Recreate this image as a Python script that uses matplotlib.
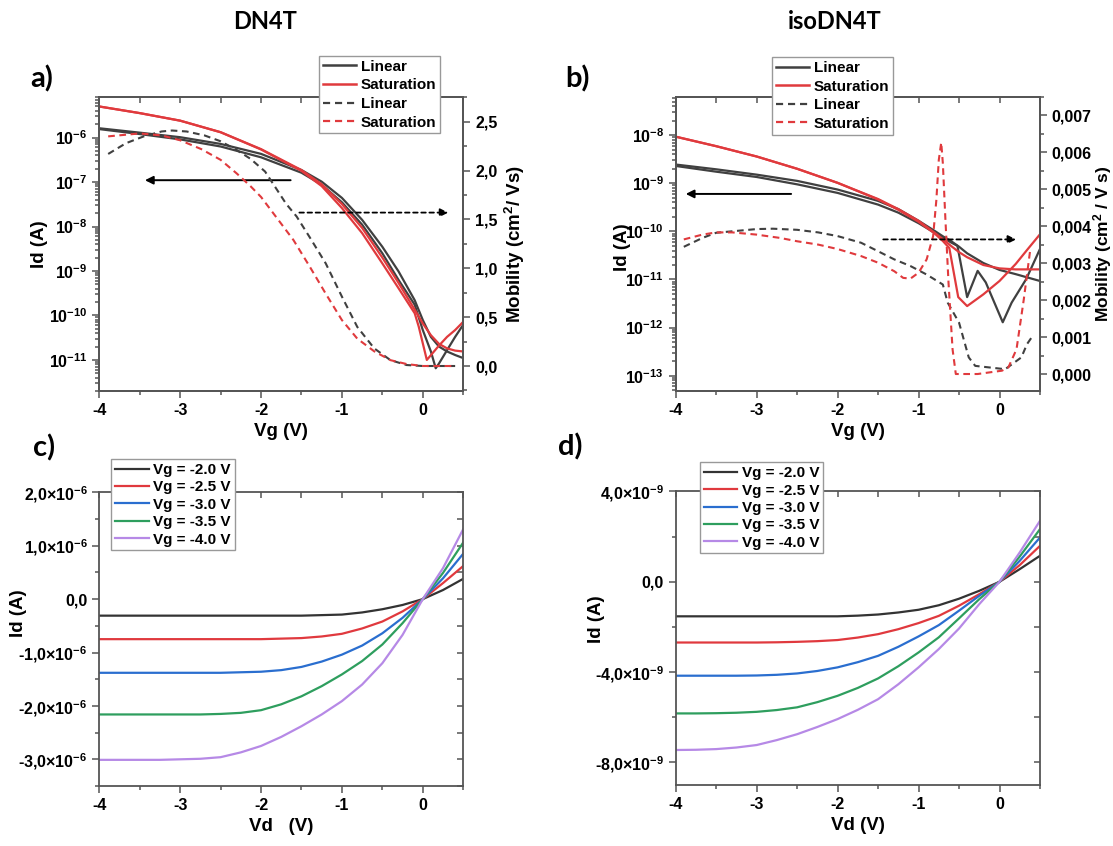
import matplotlib
matplotlib.use("Agg")
from matplotlib import pyplot as plt
from matplotlib.lines import Line2D
from matplotlib.ticker import FuncFormatter, LogLocator, MultipleLocator, NullFormatter

plt.rcParams["font.family"] = ["Liberation Sans", "DejaVu Sans"]
plt.rcParams["font.weight"] = "bold"
plt.rcParams["axes.labelweight"] = "bold"
plt.rcParams["axes.unicode_minus"] = False
plt.rcParams["mathtext.fontset"] = "custom"
plt.rcParams["mathtext.rm"] = "Liberation Sans:bold"
plt.rcParams["mathtext.bf"] = "Liberation Sans:bold"
plt.rcParams["mathtext.it"] = "Liberation Sans:bold:italic"
plt.rcParams["mathtext.default"] = "rm"

# ---------------- a) DN4T transfer ----------------
vg_a = [-4.0, -3.5, -3.0, -2.5, -2.0, -1.5, -1.25, -1.0, -0.75, -0.5, -0.3, -0.1,
        0.0, 0.1, 0.2, 0.3, 0.4, 0.5]
id_lin_a1 = [1.62e-6, 1.29e-6, 1.02e-6, 7.2e-7, 4.3e-7, 1.86e-7, 1.02e-7, 4.4e-8,
             1.41e-8, 3.5e-9, 9.8e-10, 2.2e-10, 7.9e-11, 3.3e-11, 2.0e-11, 1.55e-11,
             1.29e-11, 1.10e-11]
vg_a2 = [-4.0, -3.5, -3.0, -2.5, -2.0, -1.5, -1.25, -1.0, -0.75, -0.5, -0.3, -0.1,
         0.0, 0.1, 0.16, 0.2, 0.3, 0.4, 0.5]
id_lin_a2 = [1.55e-6, 1.20e-6, 9.1e-7, 6.3e-7, 3.6e-7, 1.62e-7, 8.7e-8, 3.5e-8,
             1.10e-8, 2.5e-9, 6.3e-10, 1.74e-10, 4.7e-11, 1.55e-11, 6.5e-12,
             8.3e-12, 1.66e-11, 3.3e-11, 6.2e-11]
id_sat_a1 = [5.0e-6, 3.55e-6, 2.4e-6, 1.32e-6, 5.5e-7, 1.86e-7, 8.9e-8, 3.2e-8,
             9.3e-9, 2.0e-9, 5.4e-10, 1.35e-10, 6.6e-11, 3.6e-11, 2.3e-11,
             1.82e-11, 1.62e-11, 1.55e-11]
vg_a3 = [-4.0, -3.5, -3.0, -2.5, -2.0, -1.5, -1.25, -1.0, -0.75, -0.5, -0.3, -0.1,
         -0.05, 0.05, 0.2, 0.3, 0.4, 0.5]
id_sat_a2 = [5.0e-6, 3.55e-6, 2.4e-6, 1.32e-6, 5.4e-7, 1.78e-7, 8.1e-8, 2.6e-8,
             7.1e-9, 1.48e-9, 4.1e-10, 1.12e-10, 5.6e-11, 1.0e-11, 2.1e-11,
             3.3e-11, 4.7e-11, 7.2e-11]

mu_x_lin_a = [-3.89, -3.67, -3.45, -3.23, -3.10, -2.92, -2.70, -2.50, -2.30, -2.13,
              -1.95, -1.80, -1.69, -1.56, -1.40, -1.20, -1.0, -0.81, -0.60, -0.40,
              -0.20, 0.0, 0.40]
mu_lin_a = [2.17, 2.28, 2.35, 2.40, 2.41, 2.40, 2.36, 2.30, 2.21, 2.12,
            1.99, 1.80, 1.66, 1.53, 1.32, 1.05, 0.71, 0.40, 0.18, 0.06,
            0.01, 0.0, 0.0]
mu_x_sat_a = [-3.89, -3.50, -3.23, -3.0, -2.74, -2.50, -2.30, -2.13, -2.0, -1.80,
              -1.60, -1.40, -1.20, -1.0, -0.81, -0.60, -0.40, -0.20, 0.0, 0.40]
mu_sat_a = [2.35, 2.38, 2.36, 2.31, 2.22, 2.11, 1.97, 1.84, 1.73, 1.51,
            1.29, 1.02, 0.74, 0.47, 0.28, 0.15, 0.06, 0.02, 0.0, 0.0]

# ---------------- b) isoDN4T transfer ----------------
vg_b = [-4.0, -3.5, -3.0, -2.5, -2.0, -1.5, -1.25, -1.0, -0.8, -0.7, -0.6, -0.5,
        -0.4, -0.2, 0.0, 0.2, 0.5]
id_sat_b1 = [9.3e-9, 5.9e-9, 3.6e-9, 2.0e-9, 1.02e-9, 4.7e-10, 2.9e-10, 1.66e-10,
             9.3e-11, 6.9e-11, 5.0e-11, 3.7e-11, 2.9e-11, 2.0e-11, 1.70e-11,
             1.62e-11, 1.62e-11]
id_lin_b1 = [2.45e-9, 1.95e-9, 1.51e-9, 1.12e-9, 7.4e-10, 4.3e-10, 2.9e-10,
             1.66e-10, 1.02e-10, 7.9e-11, 6.3e-11, 4.8e-11, 3.5e-11, 2.2e-11,
             1.58e-11, 1.29e-11, 9.3e-12]
vg_b2 = [-4.0, -3.5, -3.0, -2.5, -2.0, -1.5, -1.25, -1.0, -0.8, -0.7, -0.62,
         -0.51, -0.4, -0.2, 0.0, 0.2, 0.35, 0.5]
id_sat_b2 = [9.3e-9, 5.9e-9, 3.6e-9, 2.0e-9, 1.02e-9, 4.6e-10, 2.8e-10, 1.58e-10,
             9.0e-11, 6.3e-11, 4.5e-11, 4.3e-12, 2.8e-12, 4.9e-12, 9.3e-12,
             2.1e-11, 4.3e-11, 8.7e-11]
vg_b3 = [-4.0, -3.5, -3.0, -2.5, -2.0, -1.5, -1.25, -1.0, -0.8, -0.7, -0.6, -0.52,
         -0.4, -0.27, -0.17, 0.04, 0.15, 0.33, 0.5]
id_lin_b2 = [2.29e-9, 1.74e-9, 1.35e-9, 9.5e-10, 6.3e-10, 3.6e-10, 2.45e-10,
             1.48e-10, 9.3e-11, 7.4e-11, 5.9e-11, 5.0e-11, 4.3e-12, 1.51e-11,
             8.7e-12, 1.29e-12, 3.3e-12, 1.02e-11, 4.3e-11]

mu_x_lin_b = [-3.90, -3.67, -3.50, -3.30, -3.0, -2.80, -2.50, -2.24, -2.0, -1.71,
              -1.50, -1.30, -1.10, -0.90, -0.70, -0.64, -0.50, -0.38, -0.30, 0.07,
              0.27, 0.34, 0.40]
mu_lin_b = [3.44e-3, 3.68e-3, 3.82e-3, 3.86e-3, 3.92e-3, 3.93e-3, 3.90e-3, 3.83e-3,
            3.73e-3, 3.55e-3, 3.32e-3, 3.10e-3, 2.92e-3, 2.69e-3, 2.42e-3, 1.93e-3,
            1.39e-3, 0.45e-3, 0.22e-3, 0.13e-3, 0.45e-3, 0.81e-3, 1.00e-3]
mu_x_sat_b = [-3.90, -3.67, -3.50, -3.30, -3.0, -2.71, -2.50, -2.24, -2.0, -1.71,
              -1.50, -1.30, -1.19, -1.10, -1.0, -0.90, -0.82, -0.78, -0.75, -0.72,
              -0.70, -0.67, -0.63, -0.58, -0.54, -0.27, 0.03, 0.11, 0.21, 0.30, 0.38]
mu_sat_b = [3.64e-3, 3.77e-3, 3.83e-3, 3.83e-3, 3.77e-3, 3.68e-3, 3.59e-3, 3.50e-3,
            3.38e-3, 3.19e-3, 3.01e-3, 2.78e-3, 2.60e-3, 2.58e-3, 2.74e-3, 3.10e-3,
            3.73e-3, 4.71e-3, 5.79e-3, 6.26e-3, 5.70e-3, 4.26e-3, 2.47e-3, 0.67e-3,
            0.0, 0.0, 0.09e-3, 0.18e-3, 0.67e-3, 2.02e-3, 3.37e-3]

# ---------------- c) / d) output curves ----------------
vd = [-4.0, -3.75, -3.5, -3.25, -3.0, -2.75, -2.5, -2.25, -2.0, -1.75, -1.5, -1.25,
      -1.0, -0.75, -0.5, -0.25, 0.0, 0.25, 0.5]
vg_labels = ["Vg = -2.0 V", "Vg = -2.5 V", "Vg = -3.0 V", "Vg = -3.5 V", "Vg = -4.0 V"]
id_c = [
    [-0.31, -0.31, -0.31, -0.31, -0.31, -0.31, -0.31, -0.31, -0.31, -0.31, -0.31,
     -0.30, -0.29, -0.25, -0.19, -0.11, 0.0, 0.17, 0.38],
    [-0.75, -0.75, -0.75, -0.75, -0.75, -0.75, -0.75, -0.75, -0.75, -0.74, -0.73,
     -0.70, -0.65, -0.55, -0.42, -0.23, 0.0, 0.30, 0.62],
    [-1.38, -1.38, -1.38, -1.38, -1.38, -1.38, -1.38, -1.37, -1.36, -1.33, -1.27,
     -1.17, -1.04, -0.87, -0.64, -0.35, 0.0, 0.39, 0.85],
    [-2.16, -2.16, -2.16, -2.16, -2.16, -2.16, -2.15, -2.13, -2.08, -1.97, -1.82,
     -1.63, -1.41, -1.16, -0.85, -0.45, 0.0, 0.49, 1.06],
    [-3.01, -3.01, -3.01, -3.01, -3.00, -2.99, -2.96, -2.87, -2.75, -2.58, -2.38,
     -2.16, -1.91, -1.60, -1.20, -0.67, 0.0, 0.58, 1.31],
]  # x 1e-6 A
id_d = [
    [-1.53, -1.53, -1.53, -1.53, -1.53, -1.53, -1.53, -1.53, -1.53, -1.50, -1.45,
     -1.36, -1.24, -1.04, -0.75, -0.40, 0.0, 0.56, 1.15],
    [-2.69, -2.69, -2.69, -2.69, -2.69, -2.68, -2.66, -2.63, -2.58, -2.47, -2.32,
     -2.10, -1.83, -1.51, -1.06, -0.55, 0.0, 0.74, 1.59],
    [-4.16, -4.16, -4.16, -4.16, -4.15, -4.12, -4.06, -3.95, -3.79, -3.56, -3.28,
     -2.88, -2.42, -1.92, -1.28, -0.62, 0.0, 0.93, 1.96],
    [-5.83, -5.83, -5.82, -5.80, -5.76, -5.68, -5.56, -5.33, -5.05, -4.70, -4.28,
     -3.74, -3.13, -2.46, -1.62, -0.77, 0.0, 1.12, 2.33],
    [-7.45, -7.44, -7.41, -7.34, -7.23, -7.01, -6.75, -6.43, -6.08, -5.67, -5.20,
     -4.54, -3.79, -2.98, -2.07, -0.99, 0.0, 1.30, 2.70],
]  # x 1e-9 A

DARK = "#404040"
RED = "#e03a3d"
OUT_COLORS = ["#333333", "#e0393e", "#2a6ecf", "#2e9e5e", "#b689e6"]
SPINE = "#555555"
TICK_FS = 11.5
LABEL_FS = 13.5
LEG_FS = 11
DASH = (0, (3.2, 2.2))


def comma(fmt):
    return FuncFormatter(lambda v, pos: (fmt % v).replace(".", ","))


def sci_comma(scale, exp):
    def f(v, pos):
        m = v / scale
        if abs(m) < 1e-9:
            return "0,0"
        return ("%.1f" % m).replace(".", ",") + r"×10$^{%d}$" % exp
    return FuncFormatter(f)


def style_spines(ax):
    for s in ax.spines.values():
        s.set_color(SPINE)
        s.set_linewidth(1.3)
    ax.tick_params(which="both", direction="out", color=SPINE, width=1.1,
                   labelsize=TICK_FS)
    ax.tick_params(which="major", length=5)
    ax.tick_params(which="minor", length=3)


def style_axes(ax):
    style_spines(ax)
    ax.set_xlim(-4, 0.5)
    ax.xaxis.set_major_locator(MultipleLocator(1))
    ax.xaxis.set_minor_locator(MultipleLocator(0.5))
    top = ax.secondary_xaxis("top")
    top.xaxis.set_major_locator(MultipleLocator(0.5))
    top.tick_params(direction="in", length=4, color=SPINE, width=1.1, labeltop=False)
    top.spines["top"].set_visible(False)


def log_left(ax, label_xy):
    ax.set_yscale("log")
    ax.yaxis.set_major_locator(LogLocator(base=10, numticks=20))
    ax.yaxis.set_minor_locator(LogLocator(base=10, subs=range(2, 10), numticks=20))
    ax.yaxis.set_minor_formatter(NullFormatter())
    ax.set_xlabel("Vg (V)", fontsize=LABEL_FS)
    ax.set_ylabel("Id (A)", fontsize=LABEL_FS)
    ax.yaxis.set_label_coords(*label_xy)


def make_legend(ax, fig, x0, top, handles=None, labels=None, spacing=0.3):
    kw = dict(loc="upper left", bbox_to_anchor=(x0, top),
              bbox_transform=fig.transFigure, fancybox=False,
              edgecolor="#999999", framealpha=1, borderpad=0.25,
              labelspacing=spacing, handlelength=2.2, handletextpad=0.3,
              borderaxespad=0, prop={"weight": "bold", "size": LEG_FS})
    if handles is None:
        leg = ax.legend(**kw)
    else:
        leg = ax.legend(handles, labels, **kw)
    leg.get_frame().set_linewidth(1.0)
    leg.set_zorder(20)


def transfer_legend(ax2, fig, x0, top):
    handles = [
        Line2D([], [], color=DARK, lw=1.8),
        Line2D([], [], color=RED, lw=1.8),
        Line2D([], [], color=DARK, lw=1.6, ls=DASH),
        Line2D([], [], color=RED, lw=1.6, ls=DASH),
    ]
    make_legend(ax2, fig, x0, top, handles,
                ["Linear", "Saturation", "Linear", "Saturation"], spacing=0.3)


def mobility_axis(ax, ylim, major, minor, fmt, label, label_x, label_fs):
    ax2 = ax.twinx()
    style_spines(ax2)
    ax2.set_ylim(*ylim)
    ax2.yaxis.set_major_locator(MultipleLocator(major))
    ax2.yaxis.set_minor_locator(MultipleLocator(minor))
    ax2.yaxis.set_major_formatter(comma(fmt))
    ax2.set_ylabel(label, fontsize=label_fs)
    ax2.yaxis.set_label_coords(label_x, 0.5)
    return ax2


def arrow(ax, x0, x1, y, dashed=False):
    props = dict(arrowstyle="-|>", color="black", lw=1.4, mutation_scale=12)
    if dashed:
        props["ls"] = (0, (2.5, 2))
        props["lw"] = 1.3
    ax.annotate("", xy=(x1, y), xytext=(x0, y), arrowprops=props)


def main():
    fig = plt.figure(figsize=(11.13, 8.46), dpi=100)

    # ----- a)
    ax = fig.add_axes([0.0892, 0.5378, 0.3270, 0.3479])
    style_axes(ax)
    log_left(ax, (-0.14, 0.5))
    ax.plot(vg_a, id_lin_a1, color=DARK, lw=1.6)
    ax.plot(vg_a2, id_lin_a2, color=DARK, lw=1.6)
    ax.plot(vg_a, id_sat_a1, color=RED, lw=1.6)
    ax.plot(vg_a3, id_sat_a2, color=RED, lw=1.6)
    ax.set_ylim(2.0e-12, 8.3e-6)
    arrow(ax, -1.6, -3.47, 1.1e-7)
    ax2 = mobility_axis(ax, (-0.256, 2.756), 0.5, 0.25, "%.1f",
                        "Mobility (cm$^2$/ Vs)", 1.11, LABEL_FS)
    ax2.plot(mu_x_lin_a, mu_lin_a, color=DARK, lw=1.5, ls=DASH)
    ax2.plot(mu_x_sat_a, mu_sat_a, color=RED, lw=1.5, ls=DASH)
    arrow(ax2, -1.56, 0.35, 1.57, dashed=True)
    transfer_legend(ax2, fig, 0.2866, 0.9338)

    # ----- b)
    bx = fig.add_axes([0.6071, 0.5378, 0.3273, 0.3479])
    style_axes(bx)
    log_left(bx, (-0.122, 0.49))
    bx.plot(vg_b, id_lin_b1, color=DARK, lw=1.6)
    bx.plot(vg_b3, id_lin_b2, color=DARK, lw=1.6)
    bx.plot(vg_b, id_sat_b1, color=RED, lw=1.6)
    bx.plot(vg_b2, id_sat_b2, color=RED, lw=1.6)
    bx.set_ylim(4.8e-14, 6.3e-8)
    arrow(bx, -2.54, -3.91, 6.0e-10)
    bx2 = mobility_axis(bx, (-0.00046, 0.0075), 0.001, 0.0005, "%.3f",
                        "Mobility (cm$^2$ / V s)", 1.14, 12.5)
    bx2.plot(mu_x_lin_b, mu_lin_b, color=DARK, lw=1.5, ls=DASH)
    bx2.plot(mu_x_sat_b, mu_sat_b, color=RED, lw=1.5, ls=DASH)
    arrow(bx2, -1.47, 0.24, 3.64e-3, dashed=True)
    transfer_legend(bx2, fig, 0.6934, 0.9323)

    # ----- c) and d)
    specs = [
        ([0.0892, 0.0709, 0.3270, 0.3472], id_c, 1e-6, -6, (-3.5e-6, 2.0e-6),
         1e-6, 0.5e-6, "Vd   (V)", (0.1001, 0.4571), (-0.199, 0.59)),
        ([0.6071, 0.0721, 0.3273, 0.3470], id_d, 1e-9, -9, (-9e-9, 4e-9),
         4e-9, 2e-9, "Vd (V)", (0.6289, 0.4535), (-0.195, 0.565)),
    ]
    for rect, data, scale, exp, ylim, major, minor, xlabel, legpos, lab_xy in specs:
        cx = fig.add_axes(rect)
        style_axes(cx)
        for vals, color, lab in zip(data, OUT_COLORS, vg_labels):
            cx.plot(vd, [v * scale for v in vals], color=color, lw=1.6, label=lab)
        cx.set_ylim(*ylim)
        cx.yaxis.set_major_locator(MultipleLocator(major))
        cx.yaxis.set_minor_locator(MultipleLocator(minor))
        cx.yaxis.set_major_formatter(sci_comma(scale, exp))
        right = cx.secondary_yaxis("right")
        right.yaxis.set_major_locator(MultipleLocator(minor))
        right.tick_params(direction="in", length=4, color=SPINE, width=1.1,
                          labelright=False)
        right.spines["right"].set_visible(False)
        cx.set_xlabel(xlabel, fontsize=LABEL_FS)
        cx.set_ylabel("Id (A)", fontsize=LABEL_FS)
        cx.yaxis.set_label_coords(*lab_xy)
        make_legend(cx, fig, legpos[0], legpos[1], spacing=0.22)

    # titles and panel letters
    fig.text(0.238, 0.974, "DN4T", ha="center", va="center", fontsize=17,
             fontweight="bold", family=["Lato", "DejaVu Sans"])
    fig.text(0.750, 0.974, "isoDN4T", ha="center", va="center", fontsize=17,
             fontweight="bold", family=["Lato", "DejaVu Sans"])
    for x, y, t in [(0.0377, 0.907, "a)"), (0.519, 0.907, "b)"),
                    (0.0395, 0.470, "c)"), (0.512, 0.4716, "d)")]:
        fig.text(x, y, t, ha="center", va="center", fontsize=21,
                 fontweight="bold", family=["Lato", "DejaVu Sans"])

    fig.savefig("out.png", dpi=100)


if __name__ == "__main__":
    main()
